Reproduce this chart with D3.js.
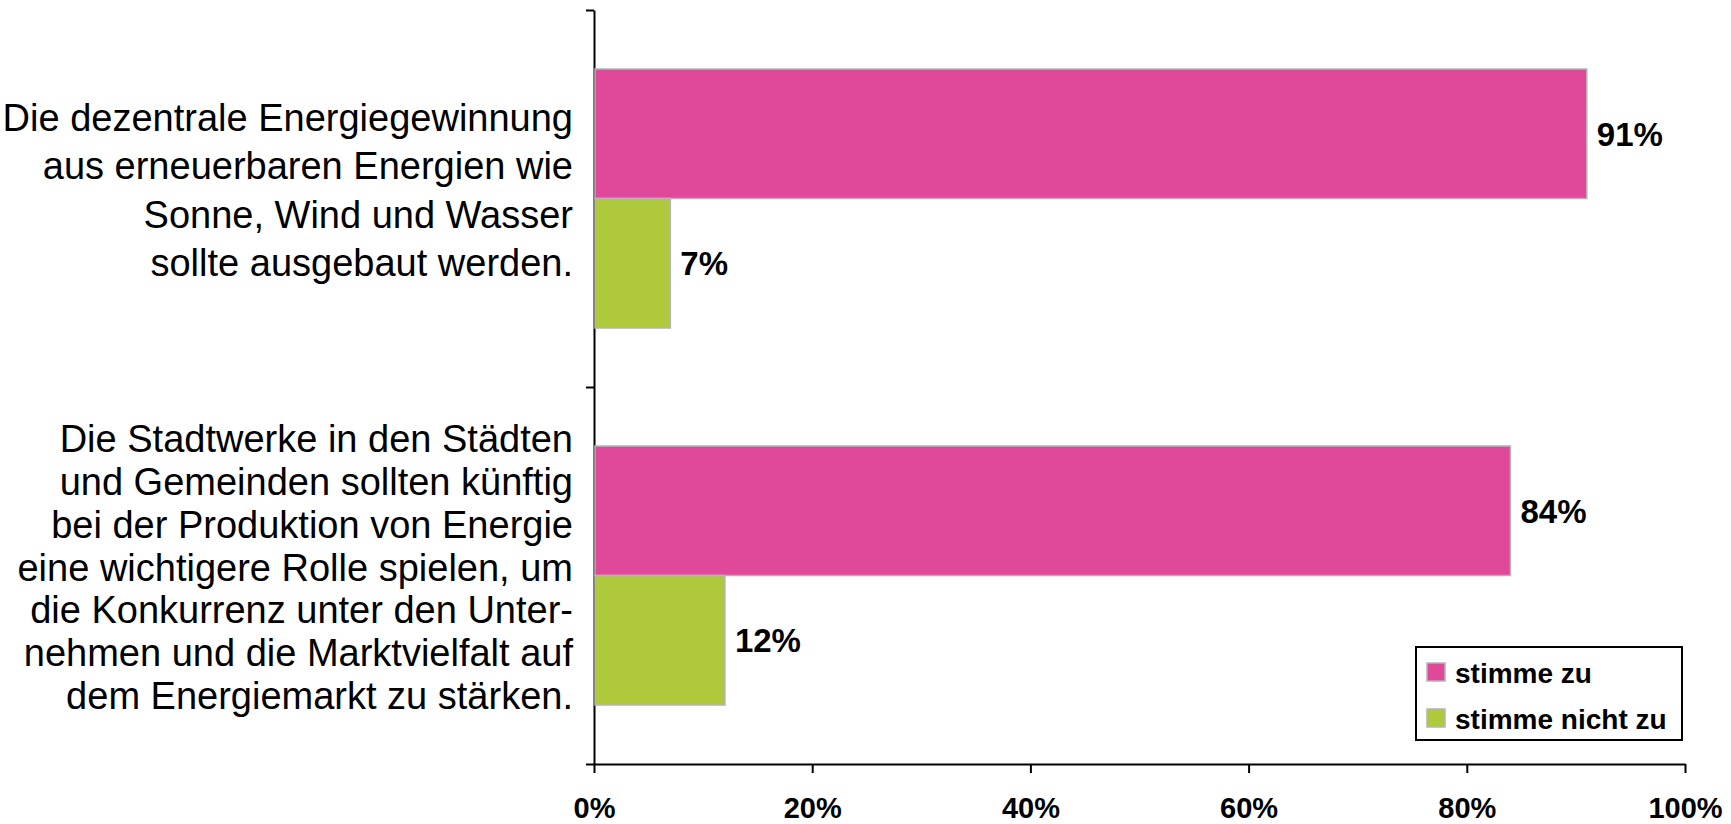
<!DOCTYPE html>
<html>
<head>
<meta charset="utf-8">
<script src="https://cdn.jsdelivr.net/npm/d3@7"></script>
<style>
  body { margin: 0; background: #fff; }
  #chart { width: 1731px; height: 824px; }
  text { font-family: "Liberation Sans", Arial, sans-serif; fill: #000; }
  .domain, .tick line { stroke: #000; stroke-width: 2; }
</style>
</head>
<body>
<div id="chart"></div>
<script>
  // categories (line breaks as in the original slide)
  var categories = ["dezentral", "stadtwerke"];
  var categoryLines = [
    ["Die dezentrale Energiegewinnung", "aus erneuerbaren Energien wie", "Sonne, Wind und Wasser", "sollte ausgebaut werden."],
    ["Die Stadtwerke in den Städten", "und Gemeinden sollten künftig", "bei der Produktion von Energie", "eine wichtigere Rolle spielen, um", "die Konkurrenz unter den Unter-", "nehmen und die Marktvielfalt auf", "dem Energiemarkt zu stärken."]
  ];
  var seriesNames = ["stimme zu", "stimme nicht zu"];
  var agree = [91, 84];
  var disagree = [7, 12];
  var xTicks = [0, 20, 40, 60, 80, 100];
  var colors = ["#e0489a", "#aec93c"];

  var width = 1731, height = 824;
  var margin = {top: 10, right: 46, bottom: 60, left: 594};

  var svg = d3.select("#chart").append("svg")
    .attr("width", width)
    .attr("height", height);

  var xScale = d3.scaleLinear()
    .domain([0, 100])
    .range([margin.left, margin.left + 1091]);

  var yScale = d3.scaleBand()
    .domain(categories)
    .range([margin.top, height - margin.bottom])
    .padding(0);

  var barH = 129.5;
  var inner = d3.scaleBand()
    .domain(seriesNames)
    .range([-barH, barH])
    .padding(0);

  var rows = categories.map(function(c, i) {
    return {cat: c, lines: categoryLines[i], values: [agree[i], disagree[i]]};
  });

  // y axis with ticks at the category boundaries
  var yLine = d3.scaleLinear()
    .domain([0, categories.length])
    .range([height - margin.bottom, margin.top]);

  svg.append("g")
    .attr("transform", `translate(${margin.left},0)`)
    .call(d3.axisLeft(yLine).tickValues(d3.range(categories.length + 1)).tickSize(8).tickSizeOuter(0).tickFormat(""));

  var xAxis = svg.append("g")
    .attr("transform", `translate(0,${height - margin.bottom})`)
    .call(d3.axisBottom(xScale).tickValues(xTicks).tickSize(9).tickSizeOuter(0).tickPadding(24)
      .tickFormat(function(d) { return d + "%"; }));
  xAxis.selectAll("text")
    .attr("font-size", 29)
    .attr("font-weight", "bold")
    .attr("font-family", "'Liberation Sans', Arial, sans-serif");

  var group = svg.selectAll(".row")
    .data(rows)
    .enter()
    .append("g")
      .attr("class", "row")
      .attr("transform", function(d) { return `translate(0,${yScale(d.cat) + yScale.bandwidth() / 2})`; });

  group.selectAll("rect")
    .data(function(d) { return d.values.map(function(v, j) { return {name: seriesNames[j], value: v, idx: j}; }); })
    .enter()
    .append("rect")
      .attr("x", xScale(0) + 1)
      .attr("y", function(d) { return inner(d.name); })
      .attr("width", function(d) { return xScale(d.value) - xScale(0) - 1; })
      .attr("height", inner.bandwidth())
      .attr("fill", function(d) { return colors[d.idx]; })
      .attr("stroke", "#b4b4b8")
      .attr("stroke-width", 1.5);

  group.selectAll(".val")
    .data(function(d) { return d.values.map(function(v, j) { return {name: seriesNames[j], value: v}; }); })
    .enter()
    .append("text")
      .attr("class", "val")
      .attr("x", function(d) { return xScale(d.value) + 10; })
      .attr("y", function(d) { return inner(d.name) + inner.bandwidth() / 2; })
      .attr("dy", "0.36em")
      .attr("font-size", 33)
      .attr("font-weight", "bold")
      .text(function(d) { return d.value + "%"; });

  // category labels, right aligned next to the axis; long labels set a bit tighter
  function lineH(n) { return n > 5 ? 42.7 : 48.5; }
  var label = group.append("text")
    .attr("text-anchor", "end")
    .attr("font-size", 38);

  label.selectAll("tspan")
    .data(function(d) { return d.lines.map(function(l, k) { return {line: l, k: k, n: d.lines.length}; }); })
    .enter()
    .append("tspan")
      .attr("x", 573)
      .attr("y", function(d) { return -(d.n - 1) / 2 * lineH(d.n) + 5 + d.k * lineH(d.n); })
      .text(function(d) { return d.line; });

  // legend
  var legend = svg.append("g").attr("transform", "translate(1416,647)");
  legend.append("rect")
    .attr("width", 266)
    .attr("height", 93)
    .attr("fill", "#fff")
    .attr("stroke", "#000")
    .attr("stroke-width", 2);

  var item = legend.selectAll(".item")
    .data(seriesNames)
    .enter()
    .append("g")
      .attr("transform", function(d, i) { return `translate(11,${16 + i * 46})`; });

  item.append("rect")
    .attr("width", 18)
    .attr("height", 18)
    .attr("fill", function(d, i) { return colors[i]; })
    .attr("stroke", "#b4b4b8")
    .attr("stroke-width", 1.5);

  item.append("text")
    .attr("x", 28)
    .attr("y", 20)
    .attr("font-size", 28)
    .attr("font-weight", "bold")
    .text(function(d) { return d; });
</script>
</body>
</html>
